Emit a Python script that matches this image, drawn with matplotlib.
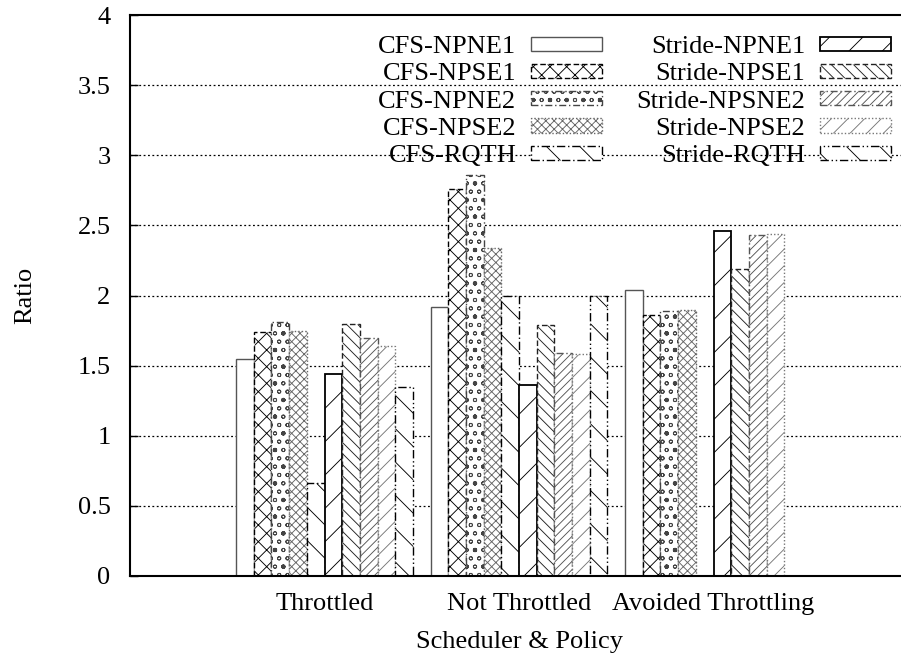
import matplotlib.pyplot as plt
import numpy as np

plt.rcParams['font.family'] = ['Liberation Serif', 'DejaVu Serif']
plt.rcParams['hatch.linewidth'] = 0.65

groups = ['Throttled', 'Not Throttled', 'Avoided Throttling']
series = ['CFS-NPNE1', 'CFS-NPSE1', 'CFS-NPNE2', 'CFS-NPSE2', 'CFS-RQTH',
          'Stride-NPNE1', 'Stride-NPSE1', 'Stride-NPSNE2', 'Stride-NPSE2', 'Stride-RQTH']

cfs_npne1 = [1.55, 1.92, 2.04]
cfs_npse1 = [1.74, 2.76, 1.86]
cfs_npne2 = [1.81, 2.86, 1.89]
cfs_npse2 = [1.75, 2.34, 1.90]
cfs_rqth = [0.66, 2.00, 0.0]
stride_npne1 = [1.44, 1.36, 2.46]
stride_npse1 = [1.80, 1.79, 2.19]
stride_npsne2 = [1.70, 1.59, 2.43]
stride_npse2 = [1.64, 1.58, 2.44]
stride_rqth = [1.35, 2.00, 0.0]

values = [cfs_npne1, cfs_npse1, cfs_npne2, cfs_npse2, cfs_rqth,
          stride_npne1, stride_npse1, stride_npsne2, stride_npse2, stride_rqth]

# (hatch, edge colour, edge linestyle, edge width)
styles = [
    (None, '#555555', '-', 1.0),
    ('xx', 'black', (0, (4, 2)), 1.0),
    ('oo.', '#444444', (0, (5, 2, 1, 2)), 1.0),
    ('xxxx', '#666666', (0, (1, 1.5)), 1.0),
    ('\\', 'black', (0, (6, 2, 1, 2)), 1.0),
    ('/', 'black', '-', 1.3),
    ('\\\\\\', '#222222', (0, (4, 2)), 1.0),
    ('////', '#555555', (0, (5, 2, 1, 2)), 1.0),
    ('//', '#777777', (0, (1, 1.5)), 1.0),
    ('\\', 'black', (0, (6, 2, 1, 2, 1, 2)), 1.0),
]

fig = plt.figure(figsize=(9.01, 6.57), dpi=100)
ax = fig.add_axes([130 / 901, 81 / 657, 778 / 901, 561 / 657])

x = np.arange(len(groups))
w = 1 / 11
for j, (name, vals) in enumerate(zip(series, values)):
    hatch, ec, ls, lw = styles[j]
    ax.bar(x + (j - 4.5) * w, vals, w, color='white', edgecolor=ec,
           hatch=hatch, linestyle=ls, linewidth=lw, label=name, zorder=2)

ax.set_xlim(-1, 3)
ax.set_ylim(0, 4)
ax.set_yticks(np.arange(0, 4.01, 0.5))
ax.set_yticklabels(['0', '0.5', '1', '1.5', '2', '2.5', '3', '3.5', '4'])
ax.set_xticks(x)
ax.set_xticklabels(groups)
ax.tick_params(axis='both', labelsize=19)
ax.tick_params(axis='y', direction='in', length=6, width=1, pad=14)
ax.tick_params(axis='x', length=0, pad=12)

for yv in np.arange(0.5, 3.6, 0.5):
    ax.axhline(yv, color='black', linestyle=(0, (1.5, 2)), linewidth=0.9, zorder=1)

ax.spines['right'].set_visible(False)
for s in ['left', 'bottom', 'top']:
    ax.spines[s].set_linewidth(1.5)

ax.set_ylabel('Ratio', fontsize=19, labelpad=30)
ax.set_xlabel('Scheduler & Policy', fontsize=19, labelpad=12)

ax.legend(ncol=2, markerfirst=False, frameon=False, fontsize=19,
          loc='upper right', bbox_to_anchor=(891 / 901, 0.945),
          bbox_transform=fig.transFigure, borderaxespad=0, borderpad=0,
          handlelength=2.7, handleheight=0.45, handletextpad=0.55,
          labelspacing=0.2, columnspacing=1.3)

fig.savefig('out.png', dpi=100)
